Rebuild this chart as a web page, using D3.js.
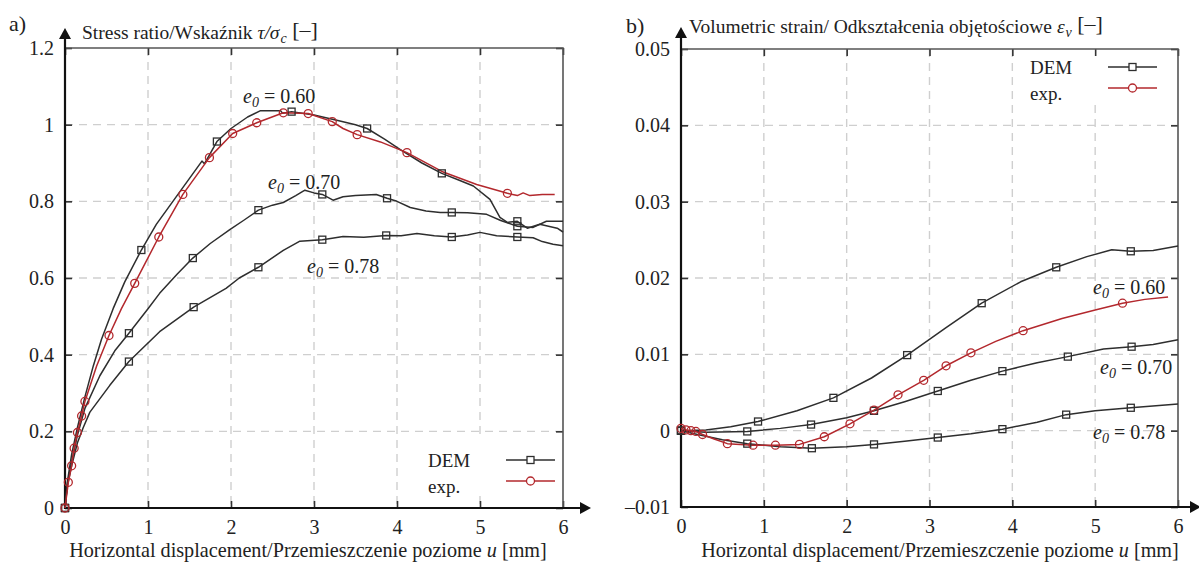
<!DOCTYPE html>
<html>
<head>
<meta charset="utf-8">
<script src="https://cdn.jsdelivr.net/npm/d3@7"></script>
<style>
  body { margin: 0; background: #fff; }
  svg { display: block; }
  svg text { font-family: "Liberation Serif", "Times New Roman", Times, "DejaVu Serif", serif; }
</style>
</head>
<body>
<svg id="chart" width="1199" height="562"></svg>
<script>
// ---- data ----
const xTicks = [0, 1, 2, 3, 4, 5, 6]
const stressTicks = [0, 0.2, 0.4, 0.6, 0.8, 1, 1.2]
const stressTickLabels = ['0', '0.2', '0.4', '0.6', '0.8', '1', '1.2']
const strainTicks = [-0.01, 0, 0.01, 0.02, 0.03, 0.04, 0.05]
const strainTickLabels = ['\u20130.01', '0', '0.01', '0.02', '0.03', '0.04', '0.05']
const legendNames = ['DEM', 'exp.']

// a) stress ratio vs displacement
const stressDem060 = [[0, 0], [0.03, 0.07], [0.08, 0.14], [0.15, 0.21], [0.24, 0.29], [0.34, 0.37], [0.44, 0.44], [0.58, 0.52], [0.72, 0.59], [0.92, 0.673], [1.1, 0.74], [1.3, 0.8], [1.5, 0.86], [1.65, 0.905], [1.68, 0.898], [1.83, 0.956], [2.0, 0.99], [2.2, 1.02], [2.35, 1.036], [2.6, 1.036], [2.62, 1.03], [2.73, 1.034], [3.0, 1.025], [3.3, 1.01], [3.5, 1.0], [3.64, 0.99], [3.85, 0.962], [4.04, 0.935], [4.3, 0.9], [4.54, 0.873], [4.75, 0.855], [4.92, 0.84], [5.12, 0.805], [5.24, 0.758], [5.33, 0.745], [5.45, 0.748], [5.57, 0.73], [5.72, 0.74], [5.93, 0.73], [6, 0.72]]
const stressDem060Marks = [[0, 0], [0.92, 0.673], [1.83, 0.956], [2.73, 1.034], [3.64, 0.99], [4.54, 0.873], [5.45, 0.748]]
const stressDem070 = [[0, 0], [0.03, 0.065], [0.08, 0.12], [0.15, 0.19], [0.24, 0.26], [0.42, 0.345], [0.6, 0.41], [0.77, 0.456], [1.0, 0.52], [1.14, 0.56], [1.35, 0.61], [1.54, 0.652], [1.75, 0.69], [1.99, 0.727], [2.15, 0.75], [2.33, 0.777], [2.5, 0.79], [2.63, 0.797], [2.78, 0.815], [2.89, 0.829], [3.0, 0.822], [3.1, 0.818], [3.23, 0.803], [3.35, 0.812], [3.5, 0.815], [3.75, 0.818], [3.88, 0.808], [4.0, 0.8], [4.16, 0.784], [4.35, 0.775], [4.52, 0.771], [4.66, 0.771], [4.85, 0.77], [5.08, 0.766], [5.25, 0.75], [5.45, 0.735], [5.64, 0.732], [5.8, 0.748], [6, 0.748]]
const stressDem070Marks = [[0, 0], [0.77, 0.456], [1.54, 0.652], [2.33, 0.777], [3.1, 0.818], [3.88, 0.808], [4.66, 0.771], [5.45, 0.735]]
const stressDem078 = [[0, 0], [0.03, 0.06], [0.08, 0.11], [0.15, 0.17], [0.22, 0.21], [0.3, 0.25], [0.54, 0.32], [0.77, 0.382], [1.14, 0.46], [1.55, 0.524], [1.94, 0.573], [2.1, 0.6], [2.33, 0.628], [2.63, 0.672], [2.83, 0.696], [3.1, 0.7], [3.2, 0.703], [3.35, 0.708], [3.6, 0.706], [3.87, 0.711], [4.05, 0.71], [4.24, 0.716], [4.45, 0.71], [4.66, 0.707], [4.85, 0.712], [5.0, 0.719], [5.2, 0.71], [5.45, 0.707], [5.64, 0.705], [5.75, 0.695], [5.88, 0.688], [6, 0.684]]
const stressDem078Marks = [[0, 0], [0.77, 0.382], [1.55, 0.524], [2.33, 0.628], [3.1, 0.7], [3.87, 0.711], [4.66, 0.707], [5.45, 0.707]]
const stressExp060 = [[0, 0], [0.04, 0.067], [0.08, 0.11], [0.11, 0.156], [0.15, 0.197], [0.2, 0.24], [0.24, 0.278], [0.38, 0.37], [0.53, 0.45], [0.68, 0.52], [0.84, 0.586], [1.13, 0.707], [1.42, 0.818], [1.74, 0.914], [2.02, 0.977], [2.31, 1.005], [2.63, 1.031], [2.93, 1.029], [3.22, 1.008], [3.35, 0.99], [3.52, 0.974], [3.8, 0.955], [4.12, 0.927], [4.54, 0.878], [4.96, 0.844], [5.33, 0.821], [5.45, 0.815], [5.52, 0.822], [5.6, 0.815], [5.75, 0.818], [5.9, 0.818]]
const stressExp060Marks = [[0, 0], [0.04, 0.067], [0.08, 0.11], [0.11, 0.156], [0.15, 0.197], [0.2, 0.24], [0.24, 0.278], [0.53, 0.45], [0.84, 0.586], [1.13, 0.707], [1.42, 0.818], [1.74, 0.914], [2.02, 0.977], [2.31, 1.005], [2.63, 1.031], [2.93, 1.029], [3.22, 1.008], [3.52, 0.974], [4.12, 0.927], [5.33, 0.821]]

// b) volumetric strain vs displacement
const strainDem060 = [[0, 0], [0.3, 0.0001], [0.6, 0.0005], [0.93, 0.0012], [1.4, 0.0026], [1.84, 0.0043], [2.3, 0.0069], [2.73, 0.0099], [3.2, 0.0135], [3.63, 0.0167], [4.1, 0.0195], [4.53, 0.0214], [4.9, 0.0228], [5.2, 0.0237], [5.43, 0.0235], [5.7, 0.0236], [6, 0.0242]]
const strainDem060Marks = [[0, 0], [0.93, 0.0012], [1.84, 0.0043], [2.73, 0.0099], [3.63, 0.0167], [4.53, 0.0214], [5.43, 0.0235]]
const strainDem070 = [[0, 0], [0.3, -0.0002], [0.8, -0.0001], [1.2, 0.0003], [1.57, 0.0008], [2.0, 0.0017], [2.33, 0.0026], [2.7, 0.0038], [3.1, 0.0052], [3.5, 0.0066], [3.88, 0.0078], [4.3, 0.0089], [4.67, 0.0097], [5.1, 0.0107], [5.44, 0.011], [5.7, 0.0113], [6, 0.0119]]
const strainDem070Marks = [[0, 0], [0.8, -0.0001], [1.57, 0.0008], [2.33, 0.0026], [3.1, 0.0052], [3.88, 0.0078], [4.67, 0.0097], [5.44, 0.011]]
const strainDem078 = [[0, 0], [0.2, -0.0005], [0.5, -0.0012], [0.8, -0.0017], [1.2, -0.0021], [1.58, -0.0023], [2.0, -0.0021], [2.33, -0.0018], [2.7, -0.0014], [3.1, -0.0009], [3.5, -0.0004], [3.88, 0.0002], [4.3, 0.0011], [4.65, 0.0021], [5.0, 0.0026], [5.43, 0.003], [6, 0.0035]]
const strainDem078Marks = [[0, 0], [0.8, -0.0017], [1.58, -0.0023], [2.33, -0.0018], [3.1, -0.0009], [3.88, 0.0002], [4.65, 0.0021], [5.43, 0.003]]
const strainExp060 = [[0, 0.0003], [0.06, 0.0001], [0.12, 0], [0.18, -0.0001], [0.26, -0.0005], [0.4, -0.0011], [0.56, -0.0017], [0.87, -0.0019], [1.14, -0.0019], [1.43, -0.0018], [1.73, -0.0008], [2.04, 0.0009], [2.33, 0.0027], [2.62, 0.0047], [2.93, 0.0066], [3.2, 0.0085], [3.5, 0.0102], [3.8, 0.0117], [4.13, 0.0131], [4.6, 0.0147], [5.0, 0.0158], [5.33, 0.0167], [5.6, 0.0172], [5.88, 0.0175]]
const strainExp060Marks = [[0, 0.0003], [0.06, 0.0001], [0.12, 0], [0.18, -0.0001], [0.26, -0.0005], [0.56, -0.0017], [0.87, -0.0019], [1.14, -0.0019], [1.43, -0.0018], [1.73, -0.0008], [2.04, 0.0009], [2.33, 0.0027], [2.62, 0.0047], [2.93, 0.0066], [3.2, 0.0085], [3.5, 0.0102], [4.13, 0.0131], [5.33, 0.0167]]

const demColor = '#2e2e2e'
const expColor = '#b3282d'
const serif = '"Liberation Serif", "Times New Roman", Times, "DejaVu Serif", serif'

const svg = d3.select('#chart')

function drawPanel (p) {
  const g = svg.append('g')
  const x = d3.scaleLinear().domain([0, 6]).range([p.left, p.right])
  const y = d3.scaleLinear().domain(p.yDomain).range([p.bottom, p.top])

  // dashed grid
  g.selectAll('line.gx')
    .data(xTicks.slice(1, -1))
    .join('line')
    .attr('x1', d => x(d)).attr('x2', d => x(d))
    .attr('y1', p.top).attr('y2', p.bottom)
    .attr('stroke', '#cfcfcf').attr('stroke-width', 1.4).attr('stroke-dasharray', '8,6')
  g.selectAll('line.gy')
    .data(p.yTicks.slice(1, -1))
    .join('line')
    .attr('x1', p.left).attr('x2', p.right)
    .attr('y1', d => y(d)).attr('y2', d => y(d))
    .attr('stroke', '#cfcfcf').attr('stroke-width', 1.4).attr('stroke-dasharray', '8,6')

  // white patch behind legend
  g.append('rect')
    .attr('x', p.legend.x - 12).attr('y', p.legend.y - 22)
    .attr('width', 82).attr('height', 56).attr('fill', '#fff')

  // inward ticks on all four sides
  const bottom = g.append('g').attr('transform', `translate(0,${p.bottom})`)
    .call(d3.axisBottom(x).tickValues(xTicks).tickSize(-7).tickPadding(12).tickFormat(d3.format('d')))
  const left = g.append('g').attr('transform', `translate(${p.left},0)`)
    .call(d3.axisLeft(y).tickValues(p.yTicks).tickSize(-7).tickPadding(11).tickFormat((d, i) => p.yLabels[i]))
  const top = g.append('g').attr('transform', `translate(0,${p.top})`)
    .call(d3.axisTop(x).tickValues(xTicks).tickSize(-7).tickFormat(''))
  const right = g.append('g').attr('transform', `translate(${p.right},0)`)
    .call(d3.axisRight(y).tickValues(p.yTicks).tickSize(-7).tickFormat(''))
  for (const a of [bottom, left, top, right]) {
    a.attr('font-family', serif)
    a.select('.domain').remove()
    a.selectAll('.tick line').attr('stroke', '#333').attr('stroke-width', 1.6)
    a.selectAll('.tick text').attr('font-family', serif).attr('font-size', 20).attr('fill', '#222')
  }

  // frame: thin top/right, heavy left/bottom axes with arrows
  g.append('path')
    .attr('d', `M${p.left},${p.top}H${p.right}V${p.bottom}`)
    .attr('fill', 'none').attr('stroke', '#555').attr('stroke-width', 1.6)
  g.append('line')
    .attr('x1', p.left).attr('x2', p.left).attr('y1', p.bottom + 1).attr('y2', p.arrowTop + 8)
    .attr('stroke', '#111').attr('stroke-width', 2.2)
  g.append('line')
    .attr('x1', p.left - 1).attr('x2', p.arrowRight - 10).attr('y1', p.bottom).attr('y2', p.bottom)
    .attr('stroke', '#111').attr('stroke-width', 2.2)
  g.append('path')
    .attr('d', `M${p.left},${p.arrowTop}L${p.left - 6},${p.arrowTop + 11}L${p.left + 6},${p.arrowTop + 11}Z`)
    .attr('fill', '#111')
  g.append('path')
    .attr('d', `M${p.arrowRight},${p.bottom}L${p.arrowRight - 11},${p.bottom - 6}L${p.arrowRight - 11},${p.bottom + 6}Z`)
    .attr('fill', '#111')

  // curves
  const line = d3.line().x(d => x(d[0])).y(d => y(d[1]))
  g.selectAll('path.curve')
    .data(p.series)
    .join('path')
    .attr('class', 'curve')
    .attr('d', s => line(s.values))
    .attr('fill', 'none')
    .attr('stroke', s => s.color)
    .attr('stroke-width', 1.5)
    .attr('stroke-linejoin', 'round')

  // markers
  for (const s of p.series) {
    if (s.kind === 'square') {
      g.selectAll(null)
        .data(s.marks)
        .join('rect')
        .attr('x', d => x(d[0]) - 3.5).attr('y', d => y(d[1]) - 3.5)
        .attr('width', 7).attr('height', 7)
        .attr('fill', 'none').attr('stroke', s.color).attr('stroke-width', 1.3)
    } else {
      g.selectAll(null)
        .data(s.marks)
        .join('circle')
        .attr('cx', d => x(d[0])).attr('cy', d => y(d[1])).attr('r', 4)
        .attr('fill', 'none').attr('stroke', s.color).attr('stroke-width', 1.3)
    }
  }

  // legend
  const lg = g.append('g').attr('font-size', 19).attr('font-family', serif).attr('fill', '#222')
  legendNames.forEach((name, i) => {
    const ly = p.legend.y + i * 21
    lg.append('text').attr('x', p.legend.x).attr('y', ly + (i === 0 ? 7 : 12)).text(name)
    lg.append('line')
      .attr('x1', p.legend.lineX).attr('x2', p.legend.lineX + 49)
      .attr('y1', ly).attr('y2', ly)
      .attr('stroke', i === 0 ? demColor : expColor).attr('stroke-width', 1.5)
    if (i === 0) {
      lg.append('rect').attr('x', p.legend.lineX + 21).attr('y', ly - 3.5).attr('width', 7).attr('height', 7)
        .attr('fill', '#fff').attr('stroke', demColor).attr('stroke-width', 1.3)
    } else {
      lg.append('circle').attr('cx', p.legend.lineX + 24.5).attr('cy', ly).attr('r', 4)
        .attr('fill', '#fff').attr('stroke', expColor).attr('stroke-width', 1.3)
    }
  })

  // e0 annotations
  p.notes.forEach(n => {
    const t = g.append('text').attr('x', n.x).attr('y', n.y).attr('font-family', serif).attr('font-size', 20).attr('fill', '#222')
    t.append('tspan').attr('font-style', 'italic').text('e')
    t.append('tspan').attr('font-style', 'italic').attr('font-size', 14).attr('dy', 4).text('0')
    t.append('tspan').attr('dy', -4).text(' = ' + n.label)
  })

  // panel letter and y title
  g.append('text').attr('x', p.letterX).attr('y', p.letterY).attr('font-family', serif)
    .attr('font-size', 22).attr('fill', '#222').text(p.letter)
  const yt = g.append('text').attr('x', p.titleX).attr('y', p.titleY).attr('font-family', serif)
    .attr('font-size', 19.5).attr('fill', '#222')
  yt.append('tspan').text(p.title)
  yt.append('tspan').attr('font-style', 'italic').text(p.symbol)
  yt.append('tspan').attr('font-style', 'italic').attr('font-size', 14).attr('dy', 4).attr('dx', 1).text(p.sub)
  yt.append('tspan').attr('dy', -6).attr('font-size', 22).text(' [\u2013]')

  // x title
  const xt = g.append('text').attr('x', p.xTitleX).attr('y', 557)
    .attr('text-anchor', 'middle').attr('font-family', serif).attr('font-size', 20.2).attr('fill', '#222')
  xt.append('tspan').text('Horizontal displacement/Przemieszczenie poziome ')
  xt.append('tspan').attr('font-style', 'italic').text('u')
  xt.append('tspan').text(' [mm]')
}

drawPanel({
  left: 65, right: 563, top: 48, bottom: 508, arrowTop: 28, arrowRight: 591,
  yDomain: [0, 1.2], yTicks: stressTicks, yLabels: stressTickLabels,
  letter: 'a)', letterX: 9, letterY: 31,
  title: 'Stress ratio/Wska\u017anik ', symbol: '\u03c4/\u03c3', sub: 'c', titleX: 82, titleY: 39,
  xTitleX: 308,
  legend: { x: 428, y: 460, lineX: 506 },
  series: [
    { values: stressDem078, marks: stressDem078Marks, color: demColor, kind: 'square' },
    { values: stressDem070, marks: stressDem070Marks, color: demColor, kind: 'square' },
    { values: stressDem060, marks: stressDem060Marks, color: demColor, kind: 'square' },
    { values: stressExp060, marks: stressExp060Marks, color: expColor, kind: 'circle' }
  ],
  notes: [
    { x: 243, y: 103, label: '0.60' },
    { x: 268, y: 189, label: '0.70' },
    { x: 307, y: 273, label: '0.78' }
  ]
})

drawPanel({
  left: 681, right: 1178, top: 49, bottom: 507, arrowTop: 27, arrowRight: 1201,
  yDomain: [-0.01, 0.05], yTicks: strainTicks, yLabels: strainTickLabels,
  letter: 'b)', letterX: 626, letterY: 33,
  title: 'Volumetric strain/ Odkszta\u0142cenia obj\u0119to\u015bciowe ', symbol: '\u03b5', sub: 'v', titleX: 689, titleY: 33,
  xTitleX: 940,
  legend: { x: 1030, y: 67, lineX: 1108 },
  series: [
    { values: strainDem078, marks: strainDem078Marks, color: demColor, kind: 'square' },
    { values: strainDem070, marks: strainDem070Marks, color: demColor, kind: 'square' },
    { values: strainDem060, marks: strainDem060Marks, color: demColor, kind: 'square' },
    { values: strainExp060, marks: strainExp060Marks, color: expColor, kind: 'circle' }
  ],
  notes: [
    { x: 1093, y: 294, label: '0.60' },
    { x: 1100, y: 374, label: '0.70' },
    { x: 1093, y: 439, label: '0.78' }
  ]
})
</script>
</body>
</html>
